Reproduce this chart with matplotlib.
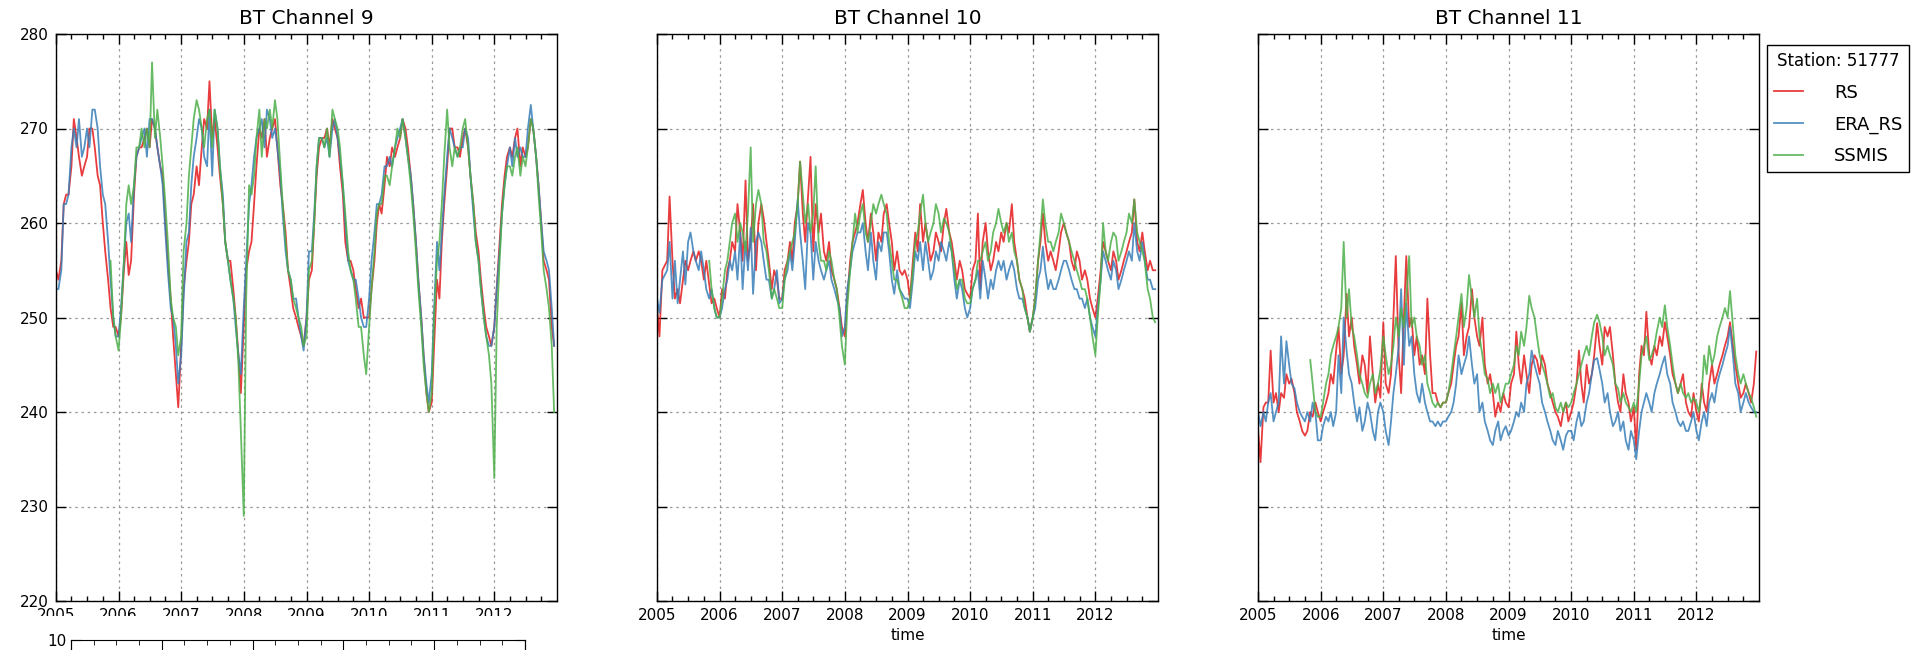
import numpy as np
import pandas as pd
import matplotlib
matplotlib.use('Agg')
import matplotlib.pyplot as plt
import matplotlib.dates as mdates
from matplotlib.patches import Rectangle

nan = np.nan

# semi-monthly brightness temperatures (K), station 51777, 2005-2012
dates = pd.date_range('2005-01-01', periods=192, freq='SMS')

ch9_rs = [
    255, 254, 256, 262, 263, 263, 266, 271, 269, 267, 265, 266, 267, 270, 270, 268, 265, 264, 260, 257, 254, 251, 249, 249,
    248, 250, 255, 258, 254.5, 256, 263, 267, 268, 268, 269, 270, 268, 271, 270, 268, 266, 265, 260, 256, 252, 248, 244, 240.5,
    247, 253, 256, 258, 262, 263, 266, 264, 268, 271, 270, 275, 269, 271, 268, 265, 262, 258, 256, 256, 253, 250, 246, 242,
    249, 255, 257, 258, 262, 266, 270, 269, 271, 267, 269, 270, 271, 268, 264, 262, 259, 255, 253, 251, 250, 249, 248, 247,
    250, 254, 255, 260, 265, 268, 269, 269, 270, 268, 271, 270, 269, 266, 263, 258, 256, 256, 255, 253, 251, 252, 250, 250,
    250, 253, 256, 260, 262, 261, 264, 267, 266, 268, 267, 268, 269, 271, 270, 268, 265, 262, 258, 254, 250, 246, 242, 240,
    241, 247, 254, 252, 258, 262, 266, 270, 270, 268, 268, 267, 269, 270, 268, 265, 262, 259, 257, 254, 251, 249, 248, 247,
    249, 253, 258, 262, 265, 267, 268, 267, 269, 270, 266, 268, 267, 268, 271, 270, 267, 264, 260, 256, 255, 254, 249, 247,
]
ch9_era = [
    253, 253, 255, 262, 262, 263, 268, 270, 268, 271, 267, 268, 270, 268, 272, 272, 270, 266, 263, 262, 258, 254, 250, 248,
    248, 251, 256, 260, 261, 258, 264, 267, 268, 269, 270, 267, 271, 271, 270, 268, 266, 264, 259, 255, 251, 250, 247, 243,
    246, 252, 258, 259, 264, 267, 269, 271, 270, 267, 266, 272, 265, 272, 270, 266, 263, 258, 256, 254, 252, 249, 246, 244,
    251, 256, 262, 264, 267, 269, 270, 271, 268, 272, 271, 269, 270, 268, 265, 261, 257, 255, 254, 252, 252, 250, 248, 246.5,
    250, 257, 257, 261, 266, 269, 269, 268, 269, 267, 270, 271, 269, 267, 264, 260, 256, 255, 254, 254, 252, 250, 249, 249,
    252, 256, 259, 262, 262, 263, 266, 266, 267, 266, 268, 269, 270, 271, 269, 267, 265, 262, 258, 254, 250, 246, 243, 241,
    244, 251, 258, 255, 259, 263, 267, 270, 269, 268, 267, 268, 268, 270, 269, 265, 261, 258, 256, 253, 250, 248, 247, 247,
    249, 253, 257, 261, 264, 266, 268, 266, 269, 267, 268, 267, 267, 270, 272.5, 270, 267, 264, 260, 257, 256, 255, 251, 247,
]
ch9_ssmis = [
    nan, nan, nan, nan, nan, nan, nan, nan, nan, nan, nan, nan, nan, nan, nan, nan, nan, nan, nan, nan, nan, 256, 250, 248,
    246.5, 250, 256, 262, 264, 262, 264, 268, 268, 270, 268, 270, 268, 277, 269, 272, 269, 266, 262, 258, 252, 250, 249, 246,
    248, 257, 260, 265, 268, 271, 273, 272, 270, 268, 271, 272, 268, 272, 270, 266, 262, 258, 256, 254, 252, 250, 245, 238,
    229, 252, 264, 263, 265, 269, 272, 267, 271, 270, 272, 270, 273, 271, 266, 262, 258, 255, 254, 252, 251, 250, 249, 247,
    248, 255, 256, 260, 266, 269, 269, 268, 270, 267, 272, 271, 270, 268, 264, 261, 257, 255, 254, 252, 249, 249, 246, 244,
    249, 253, 257, 261, 262, 262, 265, 265, 264, 266, 268, 270, 269, 271, 269, 267, 264, 261, 257, 253, 249, 245, 242, 240,
    242, 250, 256, 258, 262, 267, 272, 268, 266, 268, 267, 268, 270, 271, 268, 265, 262, 258, 256, 253, 250, 248, 246, 243,
    233, 249, 256, 261, 264, 266, 266, 265, 267, 268, 265, 267, 266, 268, 271, 270, 267, 263, 259, 255, 253, 251, 247, 240,
]

ch10_rs = [
    251, 248, 255, 255.5, 256, 262.8, 256, 252, 253, 251.5, 254, 256, 255, 256, 257, 256, 257, 256, 254, 256, 253.5, 251.5, 252, 251,
    250, 253, 252, 255, 256, 258, 257, 262, 259, 256, 264.5, 256, 258, 262, 255, 260, 262, 260.5, 258, 256, 253, 255, 254, 252,
    252, 255, 256, 258, 256, 260, 262, 266.5, 261, 258, 263, 267, 257, 262, 259, 261, 257, 256, 258, 255, 254, 253, 251, 249,
    248, 252, 256, 258, 259, 260, 262, 263.5, 260, 258, 261, 259, 256, 259, 258, 261, 262, 260, 258, 255, 257, 255, 254.5, 255,
    254, 252, 256, 259, 257, 262, 258, 260, 258, 256, 257, 259, 258, 257, 260, 261.5, 259, 258, 256, 254, 256, 255, 253, 252.5,
    252, 255, 256, 261, 253, 258, 260, 257, 255, 256, 258, 257, 259, 258, 260, 259, 262, 258, 256, 254, 253, 252, 250, 248.5,
    250, 252, 256, 258, 261, 258, 256, 257, 256, 255, 257, 259, 260, 259, 258, 256, 255, 257, 256, 254, 255, 254, 252, 251,
    250, 252, 255, 258, 257, 256, 255, 257, 256, 254, 255, 256, 257, 258, 259, 262.5, 258, 257, 259, 257, 255, 256, 255, 255,
]
ch10_era = [
    252, 250.5, 254, 254.5, 255, 258, 252, 256, 251.5, 254, 257, 253.5, 258, 259, 257, 256, 255, 257, 255, 253, 252, 253, 251, 250,
    250, 251, 253, 254, 256, 255, 257, 254, 259, 253, 258, 255, 259.5, 252.5, 258, 259, 258, 256, 254, 254, 252, 253, 255, 251.5,
    252, 254, 255, 257, 255, 258, 262.5, 259, 256, 253, 260, 259, 254, 258, 256, 255, 254, 255, 256, 254, 253, 252, 251, 248,
    249, 253, 255, 257, 258, 259, 259, 260, 257, 255, 259, 256, 254, 258, 257, 259, 259, 257, 254, 252.5, 255, 253, 252.5, 252,
    252, 251, 254, 257, 256, 258, 255, 258, 256, 254, 255, 257, 256, 258, 257, 256, 258, 257, 254, 252, 254, 253, 251, 250,
    251, 253, 254, 255, 252, 256, 254, 252, 254, 253, 255, 256, 255, 256, 254, 255, 256, 255, 253, 252, 252, 251, 250, 248.5,
    250, 251, 254, 255, 257.5, 255, 253, 254, 253, 253, 254, 255, 256, 256, 255, 254, 253, 253, 252, 252, 251, 252, 250, 249,
    248, 251, 254, 257, 256, 255, 254, 256, 255, 253, 254, 255, 256, 257, 256, 260, 257, 256, 258, 256, 254, 254, 253, 253,
]
ch10_ssmis = [
    nan, nan, nan, nan, nan, nan, nan, nan, nan, nan, nan, nan, nan, nan, nan, nan, nan, nan, nan, nan, 256, 253, 251, 250,
    250, 252, 255, 256, 258, 260, 261, 258, 260, 259, 257, 261, 268, 258, 262, 263.5, 262, 258, 257, 255, 252, 253, 252, 251,
    251, 254, 256, 257, 258, 259, 262, 266.5, 263, 260, 262, 259, 261, 266, 258, 256, 256, 255, 257, 256, 254, 253, 250, 247,
    245, 251, 255, 258, 261, 259, 261, 262, 259, 258, 260, 262, 261, 262, 263, 262, 261, 258, 256, 254, 254, 253, 252, 251,
    251, 252, 255, 258, 259, 261, 263, 260, 258, 259, 260, 262, 261, 259, 260.5, 260, 259, 257, 255, 253, 254, 254, 252, 251.5,
    251.5, 253, 254, 256, 256, 257, 258, 256, 257, 259, 260, 261.5, 260, 259, 260, 258, 259, 257, 256, 254, 253, 251, 250, 248.5,
    250, 252, 256, 259, 262.5, 260, 258, 258, 257, 258, 259, 261, 260, 259, 258, 257, 256, 255, 254, 253, 253, 252, 250, 248,
    246, 250, 254, 260, 257, 256, 258, 259, 258.5, 256, 257, 258, 259, 261, 260, 262.5, 259, 258, 257, 256, 253, 252, 250, 249.5,
]

ch11_rs = [
    238, 234.7, 240.5, 241, 241, 246.5, 241, 242, 240, 242, 241.5, 244, 243, 243.5, 242, 240, 239, 238, 237.5, 238, 240, 239.5, 241, 240,
    239, 240, 241, 242, 244, 243, 246.5, 249, 244, 246, 252.5, 248, 250, 247, 245, 243, 246, 245, 242, 248, 244, 241, 243, 241.5,
    249.5, 243, 242, 244, 250, 256.5, 246, 242, 250, 256.5, 249, 250, 246, 248, 245, 246, 244, 252, 246, 242, 242, 241, 240.5, 241,
    241, 242, 243, 245, 247, 248, 251.5, 246, 248, 249, 253, 250, 248, 247, 250, 245, 243, 244, 242, 239.5, 241, 240, 242, 241,
    240.5, 243, 244, 248.5, 245, 243, 246, 244, 242, 245, 246, 245.5, 244, 246, 245, 243, 242, 241, 240, 239.5, 238.5, 240, 241, 239,
    240, 241, 243, 246.5, 243, 241, 245, 243, 244, 246, 249.4, 247, 245, 249, 248, 249, 246, 243, 241, 240, 244, 242, 241, 239,
    240.5, 236, 244, 247, 246, 250.6, 246, 245, 247, 246, 248, 247, 249.5, 248, 246, 244, 243, 242, 243, 244, 241, 240, 239.5, 242,
    240, 239, 243, 241, 240, 243, 245, 243, 244, 245, 246, 247, 248, 249.5, 247, 245, 243, 241.5, 242, 243, 242, 241, 243, 246.4,
]
ch11_era = [
    240, 238.5, 240, 239, 241, 242, 239, 240, 241, 248, 243, 247.5, 245, 243, 242.5, 241, 240, 239.5, 239, 240, 239, 241, 240, 237,
    237, 238.5, 239.5, 239, 240, 238.5, 240, 246, 242, 250, 246.5, 244, 243, 241, 239, 240.5, 238, 239, 241, 240, 238, 237, 240, 241,
    240, 238, 236.5, 239, 242, 244, 247, 253, 245, 251.5, 247, 248, 244, 242, 241, 243, 241, 240, 239, 239, 238.5, 239, 238.5, 239,
    239, 239.5, 240, 241, 243, 246, 244, 245, 246, 248, 245, 243, 244, 240, 241, 239, 238, 237, 236.5, 238, 239, 237, 238, 238.5,
    237.5, 238, 239, 240, 239.5, 241, 240, 243, 244, 246.5, 245, 244, 243, 241, 240, 239, 238, 237, 236.5, 238, 237, 236, 237.5, 238,
    238, 237, 239, 240, 238.5, 239, 241, 242, 244, 245.5, 245.7, 244.5, 243, 241, 242, 240, 238.5, 239, 240, 238, 239, 237, 236, 238,
    237, 235, 238, 240, 241, 242, 241, 240, 242, 243, 244, 245, 245.9, 244, 243, 241, 240, 239, 238.5, 239, 238, 238, 239, 240,
    238, 237, 239, 240, 238.5, 241, 242, 241, 243, 244, 245, 246, 247, 249, 246, 243, 242, 240, 241, 242, 241, 240.5, 240, 240,
]
ch11_ssmis = [
    nan, nan, nan, nan, nan, nan, nan, nan, nan, nan, nan, nan, nan, nan, nan, nan, nan, nan, nan, nan, 245.5, 243, 240, 239.5,
    239.5, 241, 243, 244, 246, 247, 248, 249, 251, 258, 250, 253, 249, 248, 246, 244, 243, 242, 241.5, 243, 244, 242, 243, 244.5,
    248, 246, 244, 245, 247, 250, 248, 251, 249, 252, 256.5, 249, 250, 248, 247, 245, 246, 243, 242, 241, 240.5, 241, 240.5, 241,
    241, 242, 244, 246, 248, 250, 252.5, 249, 251, 254.5, 252, 250, 252, 248, 246, 244, 243.5, 242, 243, 242, 243, 241, 242, 243,
    243, 244, 245, 247, 246, 248.5, 247, 249, 252.3, 251, 250, 248, 246, 245, 244, 243, 241.5, 242, 240.5, 240, 241, 240, 241, 240.5,
    241, 242, 243, 244, 245, 246, 247, 246, 248, 249.5, 250.3, 249.5, 248, 246, 247, 246, 245, 243, 242.5, 241, 242, 241, 240.5, 240,
    241, 240, 243, 246, 247, 248, 245.5, 246, 247, 248.5, 250, 249, 251.3, 249, 247, 245, 243, 242, 243, 242, 241.5, 242, 241, 241.5,
    241, 240, 242, 246, 244, 247, 245, 246, 248, 249, 250, 251, 250, 252.8, 249, 246, 244, 243, 244, 243, 242, 241.5, 240.5, 239.5,
]

titles = ['BT Channel 9', 'BT Channel 10', 'BT Channel 11']
series = [
    (ch9_rs, ch9_era, ch9_ssmis),
    (ch10_rs, ch10_era, ch10_ssmis),
    (ch11_rs, ch11_era, ch11_ssmis),
]
labels = ['RS', 'ERA_RS', 'SSMIS']
colors = ['#e41a1c', '#377eb8', '#4daf4a']

W, H = 1915, 650
fig, axes = plt.subplots(1, 3, figsize=(W / 100, H / 100), dpi=100, sharey=True)
fig.subplots_adjust(left=56 / W, right=1759 / W, bottom=1 - 601 / H, top=1 - 34 / H, wspace=0.2)

for ax, title, group in zip(axes, titles, series):
    for values, lab, col in zip(group, labels, colors):
        ax.plot(dates, values, color=col, lw=1.3, alpha=0.85, label=lab)
    ax.set_title(title, fontsize=14.5, pad=7)
    ax.set_xlabel('time', fontsize=11)
    ax.set_xlim(pd.Timestamp('2005-01-01'), pd.Timestamp('2012-12-31'))
    ax.xaxis.set_major_locator(mdates.YearLocator())
    ax.xaxis.set_major_formatter(mdates.DateFormatter('%Y'))
    ax.xaxis.set_minor_locator(mdates.MonthLocator(bymonth=[4, 7, 10]))
    ax.tick_params(which='both', direction='in', top=True, right=True, labelsize=11, width=1)
    ax.tick_params(which='major', length=7, pad=5)
    ax.tick_params(which='minor', length=3.5)
    ax.grid(True, which='major', color='0.6', linestyle=(0, (2, 3)), linewidth=0.9)
    for s in ax.spines.values():
        s.set_linewidth(1.0)

axes[0].set_ylim(220, 280)
axes[0].set_yticks(np.arange(220, 281, 10))

axes[2].legend(title='Station: 51777', loc='upper left',
               bbox_to_anchor=(1767 / W, 1 - 45 / H), bbox_transform=fig.transFigure,
               borderaxespad=0, fancybox=False, edgecolor='black', framealpha=1,
               fontsize=13, title_fontsize=12, handlelength=1.6, handletextpad=1.7,
               labelspacing=0.75)

# next figure in the output stream starts just below the first panel
fig.add_artist(Rectangle((0, 0), 600 / W, 34 / H, transform=fig.transFigure,
                         facecolor='white', edgecolor='none', zorder=5))
sub = fig.add_axes([71 / W, -0.5, 454 / W, 0.5 + 10 / H], zorder=10)
sub.set_xlim(0, 5)
sub.set_ylim(0, 10)
sub.set_xticks(range(6))
sub.set_xticks(np.arange(0, 5.01, 0.25), minor=True)
sub.set_yticks([10])
sub.tick_params(which='both', direction='in', top=True, right=True,
                labelbottom=False, labelsize=11)
sub.tick_params(which='major', length=7)
sub.tick_params(which='minor', length=3.5)

fig.savefig('out.png', dpi=100)
